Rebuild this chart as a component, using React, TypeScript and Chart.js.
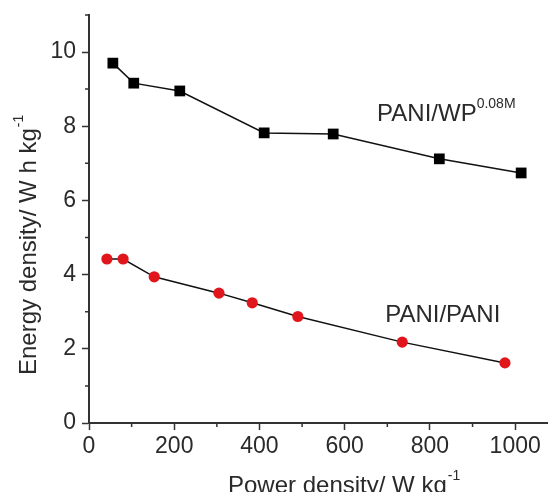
import React, { useEffect, useRef } from "react";
import { Chart, registerables } from "chart.js";

Chart.register(...registerables);

// PANI/WP^0.08M series
const wpPower = [56, 105, 213, 411, 573, 822, 1014];
const wpEnergy = [9.7, 9.16, 8.95, 7.82, 7.79, 7.12, 6.74];
// PANI/PANI series
const paniPower = [42, 80, 153, 305, 383, 490, 735, 976];
const paniEnergy = [4.42, 4.42, 3.94, 3.5, 3.24, 2.87, 2.18, 1.62];

const xMajorTicks = [0, 200, 400, 600, 800, 1000];
const xMinorTicks = [100, 300, 500, 700, 900];
const yMajorTicks = [0, 2, 4, 6, 8, 10];
const yMinorTicks = [1, 3, 5, 7, 9, 11];

const FONT = "'Liberation Sans', Arial, sans-serif";
const AXIS = "#333333";
const TEXT = "#2a2a2a";
const RED = "#e0161c";

const W = 540;
const H = 484;

export default function App() {
  const ref = useRef<HTMLCanvasElement | null>(null);

  useEffect(() => {
    const canvas = ref.current;
    if (!canvas) return;

    const overlay = {
      id: "overlay",
      afterDraw(chart: any) {
        const ctx = chart.ctx as CanvasRenderingContext2D;
        const xs = chart.scales.x;
        const ys = chart.scales.y;
        const area = chart.chartArea;
        ctx.save();
        // minor ticks
        ctx.strokeStyle = AXIS;
        ctx.lineWidth = 1.5;
        ctx.beginPath();
        xMinorTicks.forEach((v) => {
          const px = xs.getPixelForValue(v);
          ctx.moveTo(px, area.bottom);
          ctx.lineTo(px, area.bottom + 4);
        });
        yMinorTicks.forEach((v) => {
          const py = ys.getPixelForValue(v);
          ctx.moveTo(area.left, py);
          ctx.lineTo(area.left - 4, py);
        });
        ctx.stroke();

        ctx.fillStyle = TEXT;
        ctx.textBaseline = "alphabetic";
        ctx.textAlign = "left";

        // series labels
        ctx.font = `24px ${FONT}`;
        const l1x = xs.getPixelForValue(676);
        const l1y = ys.getPixelForValue(8.14);
        ctx.fillText("PANI/WP", l1x, l1y);
        const w1 = ctx.measureText("PANI/WP").width;
        ctx.font = `14px ${FONT}`;
        ctx.fillText("0.08M", l1x + w1, l1y - 13);

        ctx.font = `24px ${FONT}`;
        ctx.fillText("PANI/PANI", xs.getPixelForValue(695), ys.getPixelForValue(2.72));

        // x title
        ctx.font = `24px ${FONT}`;
        const xt = "Power density/ W kg";
        ctx.fillText(xt, 220, 485);
        const wx = ctx.measureText(xt).width;
        ctx.font = `14px ${FONT}`;
        ctx.fillText("-1", 220 + wx + 1, 472);

        // y title
        ctx.translate(28, 367);
        ctx.rotate(-Math.PI / 2);
        ctx.font = `24px ${FONT}`;
        const yt = "Energy density/ W h kg";
        ctx.fillText(yt, 0, 0);
        const wy = ctx.measureText(yt).width;
        ctx.font = `14px ${FONT}`;
        ctx.fillText("-1", wy + 1, -13);
        ctx.restore();
      },
    };

    const chart = new Chart(canvas, {
      type: "line",
      data: {
        datasets: [
          {
            label: "PANI/WP0.08M",
            data: wpPower.map((x, i) => ({ x, y: wpEnergy[i] })),
            borderColor: "#111",
            borderWidth: 1.5,
            pointStyle: "rect",
            pointRadius: 7.6,
            pointBackgroundColor: "#000",
            pointBorderColor: "#000",
            pointBorderWidth: 0,
            fill: false,
            tension: 0,
          },
          {
            label: "PANI/PANI",
            data: paniPower.map((x, i) => ({ x, y: paniEnergy[i] })),
            borderColor: "#111",
            borderWidth: 1.5,
            pointStyle: "circle",
            pointRadius: 5.6,
            pointBackgroundColor: RED,
            pointBorderColor: RED,
            pointBorderWidth: 0,
            fill: false,
            tension: 0,
          },
        ],
      },
      options: {
        animation: false,
        responsive: false,
        maintainAspectRatio: false,
        layout: { autoPadding: false, padding: { top: 6.9, left: 0, right: 0, bottom: 0 } },
        plugins: {
          legend: { display: false },
          tooltip: { enabled: false },
          title: { display: false },
        },
        scales: {
          x: {
            type: "linear",
            min: 0,
            max: 1077,
            afterBuildTicks: (s: any) => {
              s.ticks = xMajorTicks.map((v) => ({ value: v }));
            },
            afterFit: (s: any) => {
              s.height = 69;
              s.paddingLeft = 0;
              s.paddingRight = 0;
              s.paddingTop = 0;
              s.paddingBottom = 0;
            },
            grid: {
              display: true,
              drawOnChartArea: false,
              drawTicks: true,
              tickLength: 7,
              tickWidth: 1.5,
              tickColor: AXIS,
            },
            border: { display: true, color: AXIS, width: 2 },
            ticks: {
              font: { family: FONT, size: 23 },
              color: TEXT,
              padding: 3,
              maxRotation: 0,
              autoSkip: false,
              callback: (v: any) => String(v),
            },
          },
          y: {
            type: "linear",
            min: 0,
            max: 11,
            afterBuildTicks: (s: any) => {
              s.ticks = yMajorTicks.map((v) => ({ value: v }));
            },
            afterFit: (s: any) => {
              s.width = 81;
              s.paddingLeft = 0;
              s.paddingRight = 0;
              s.paddingTop = 0;
              s.paddingBottom = 0;
            },
            grid: {
              display: true,
              drawOnChartArea: false,
              drawTicks: true,
              tickLength: 7,
              tickWidth: 1.5,
              tickColor: AXIS,
            },
            border: { display: true, color: AXIS, width: 2 },
            ticks: {
              font: { family: FONT, size: 23 },
              color: TEXT,
              padding: 6,
              autoSkip: false,
              callback: (v: any) => String(v),
            },
          },
        },
      },
      plugins: [overlay],
    } as any);

    return () => chart.destroy();
  }, []);

  return (
    <div style={{ width: W, height: H, background: "#fff" }}>
      <canvas ref={ref} width={W} height={H} style={{ display: "block" }} />
    </div>
  );
}
